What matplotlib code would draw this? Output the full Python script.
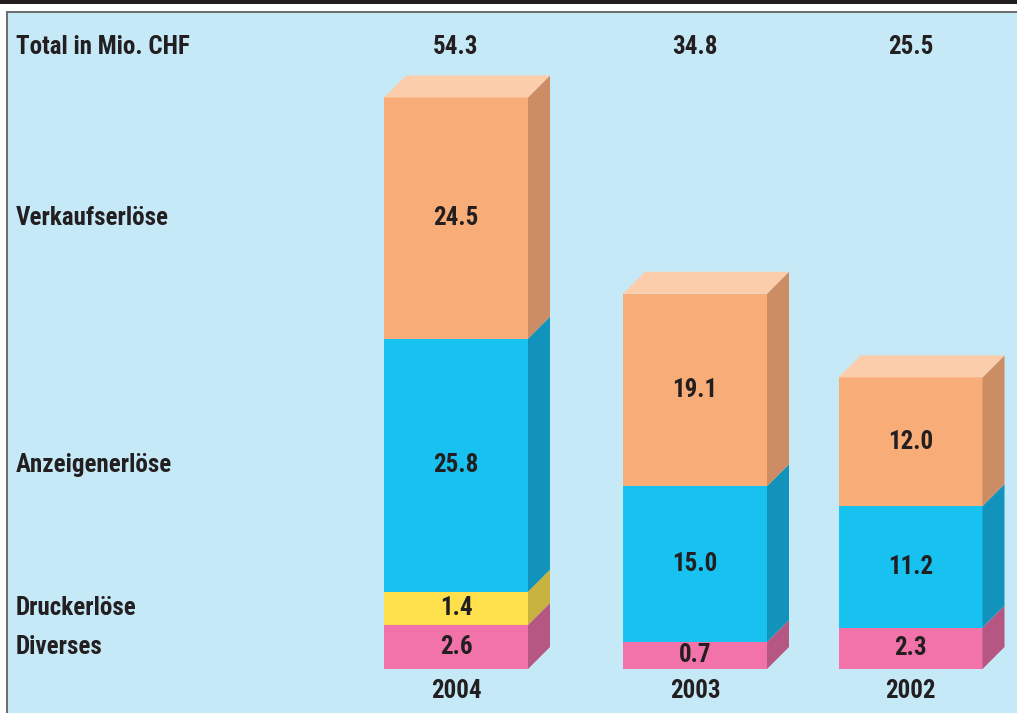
import matplotlib
matplotlib.use("Agg")
import matplotlib.pyplot as plt
from matplotlib.patches import Polygon, Rectangle
from matplotlib import font_manager

# ---------------- data ----------------
years = ["2004", "2003", "2002"]
categories = ["Diverses", "Druckerlöse", "Anzeigenerlöse", "Verkaufserlöse"]
diverses = [2.6, 0.7, 2.3]
druckerloese = [1.4, 0.0, 0.0]
anzeigenerloese = [25.8, 15.0, 11.2]
verkaufserloese = [24.5, 19.1, 12.0]
total_label = "Total in Mio. CHF"

series = [diverses, druckerloese, anzeigenerloese, verkaufserloese]
front_colors = ["#f173aa", "#fde04b", "#17c1f0", "#f8ac77"]
side_colors = ["#b65683", "#c8b33e", "#1193bb", "#cc8d65"]
top_colors = ["#f7a9cb", "#feec96", "#8adcf6", "#fbcdaa"]

# ---------------- layout ----------------
W, H = 1017, 713
K = 9.0          # pixels per value unit
PAD = 2.3        # extra display height per segment (keeps small segments legible)
BASE_PX = 44     # baseline distance from figure bottom in px
centers = [456, 695, 910.5]
BAR_W = 144
DX = 22          # depth (px)
DY = DX / K      # depth in value units

names = {f.name for f in font_manager.fontManager.ttflist}
if "Roboto Condensed" in names:
    FONT = dict(family=["Roboto Condensed", "DejaVu Sans"], weight="bold")
elif "Archivo Narrow" in names:
    FONT = dict(family=["Archivo Narrow", "DejaVu Sans"], weight="bold")
else:
    FONT = dict(family="DejaVu Sans", weight="bold")
TXT = "#231f20"
FS = 18

fig = plt.figure(figsize=(W / 100, H / 100), dpi=100)
fig.patch.set_facecolor("white")

# panel decoration
fig.patches.append(Rectangle((0, 1 - 4 / H), 1, 4 / H, transform=fig.transFigure,
                             facecolor="#231f20", edgecolor="none", zorder=0))
fig.patches.append(Rectangle((8 / W, 0), 1.1, 1 - 11 / H, transform=fig.transFigure,
                             facecolor="#c6e9f8", edgecolor="none", zorder=0))
fig.patches.append(Rectangle((6 / W, 1 - 13 / H), 1.1, 2 / H, transform=fig.transFigure,
                             facecolor="#6d6e70", edgecolor="none", zorder=1))
fig.patches.append(Rectangle((6 / W, 0), 2 / W, 1 - 11 / H, transform=fig.transFigure,
                             facecolor="#6d6e70", edgecolor="none", zorder=1))

ax = fig.add_axes([0, 0, 1, 1])
ax.set_zorder(2)
ax.set_xlim(0, W)
ax.set_ylim(-BASE_PX / K, (H - BASE_PX) / K)
ax.axis("off")
ax.patch.set_alpha(0)


def px_to_y(p):
    """convert a pixel row (from top) into value units"""
    return (H - BASE_PX - p) / K


bottoms = [0.0] * len(years)
tops_idx = [max(i for i, s in enumerate(series) if s[j] > 0) for j in range(len(years))]
seg_centers_2004 = {}
for i, s in enumerate(series):
    for j, v in enumerate(s):
        if v <= 0:
            continue
        h = v + PAD
        b = bottoms[j]
        t = b + h
        x0 = centers[j] - BAR_W / 2
        x1 = centers[j] + BAR_W / 2
        ax.bar(centers[j], h, bottom=b, width=BAR_W, color=front_colors[i],
               linewidth=0, zorder=3)
        ax.add_patch(Polygon([(x1, b), (x1 + DX, b + DY), (x1 + DX, t + DY), (x1, t)],
                             closed=True, facecolor=side_colors[i], edgecolor="none", zorder=3))
        if i == tops_idx[j]:
            ax.add_patch(Polygon([(x0, t), (x0 + DX, t + DY), (x1 + DX, t + DY), (x1, t)],
                                 closed=True, facecolor=top_colors[i], edgecolor="none", zorder=3))
        ax.text(centers[j], b + h / 2, f"{v:.1f}", ha="center", va="center",
                fontsize=FS, color=TXT, zorder=5, **FONT)
        if j == 0:
            seg_centers_2004[i] = b + h / 2
        bottoms[j] = t

# left category labels
for i, name in enumerate(categories):
    ax.text(16, seg_centers_2004[i], name, ha="left", va="center",
            fontsize=FS, color=TXT, **FONT)

# totals row
ax.text(16, px_to_y(47), total_label, ha="left", va="center", fontsize=FS, color=TXT, **FONT)
for j in range(len(years)):
    tot = sum(s[j] for s in series)
    ax.text(centers[j], px_to_y(47), f"{tot:.1f}", ha="center", va="center",
            fontsize=FS, color=TXT, **FONT)

# year labels
for j, yr in enumerate(years):
    ax.text(centers[j], px_to_y(691), yr, ha="center", va="center",
            fontsize=FS, color=TXT, **FONT)

fig.savefig("out.png", dpi=100, facecolor=fig.get_facecolor())
